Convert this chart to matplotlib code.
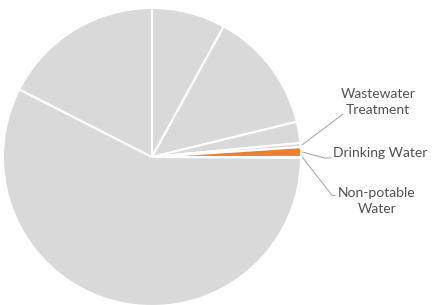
import numpy as np
import matplotlib
matplotlib.use('Agg')
import matplotlib.pyplot as plt

# slice values (%), Excel order: clockwise from 12 o'clock
labels = ['', '', '', 'Wastewater\nTreatment', 'Drinking Water', 'Non-potable\nWater', '', '']
values = [8.0, 13.2, 2.3, 0.45, 1.05, 0.1, 57.4, 17.5]
colors = ['#D9D9D9', '#D9D9D9', '#D9D9D9', '#D9D9D9', '#ED7D31', '#D9D9D9', '#D9D9D9', '#D9D9D9']

W, H = 433, 305
fig = plt.figure(figsize=(W / 100, H / 100), dpi=100)
plt.rcParams['font.family'] = ['Lato', 'DejaVu Sans']

# pie centre (152,157) from top-left, radius 149 px
cx, cy, r = 152, H - 157, 149
ax = fig.add_axes([(cx - r) / W, (cy - r) / H, 2 * r / W, 2 * r / H])
wedges, _ = ax.pie(values, colors=colors, startangle=90, counterclock=False,
                   radius=1, wedgeprops=dict(edgecolor='white', linewidth=1.5))
ax.set_xlim(-1, 1)
ax.set_ylim(-1, 1)
ax.axis('off')

# leader line end (near text) in figure pixels, diagonal angle, text block
leaders = {
    3: ((343, H - 114), 37, (378, H - 101.5), 'center'),
    4: ((331, H - 158), -15, (333, H - 153), 'left'),
    5: ((335, H - 195.5), -52, (377, H - 201), 'center'),
}
for i, (end, ang, tpos, ha) in leaders.items():
    w = wedges[i]
    mid = np.deg2rad((w.theta1 + w.theta2) / 2)
    ann = ax.annotate('', xy=(np.cos(mid) * 1.01, np.sin(mid) * 1.01), xycoords='data',
                      xytext=end, textcoords='figure pixels', annotation_clip=False,
                      arrowprops=dict(arrowstyle='-', color='#A6A6A6', lw=0.75,
                                      shrinkA=0, shrinkB=0,
                                      connectionstyle=f'angle,angleA=0,angleB={ang},rad=0'))
    ann.arrow_patch.set_clip_on(False)
    fig.text(tpos[0] / W, tpos[1] / H, labels[i], ha=ha, va='center',
             fontsize=10, color='#505050', linespacing=1.4, multialignment='center')

fig.savefig('out.png', dpi=100)
